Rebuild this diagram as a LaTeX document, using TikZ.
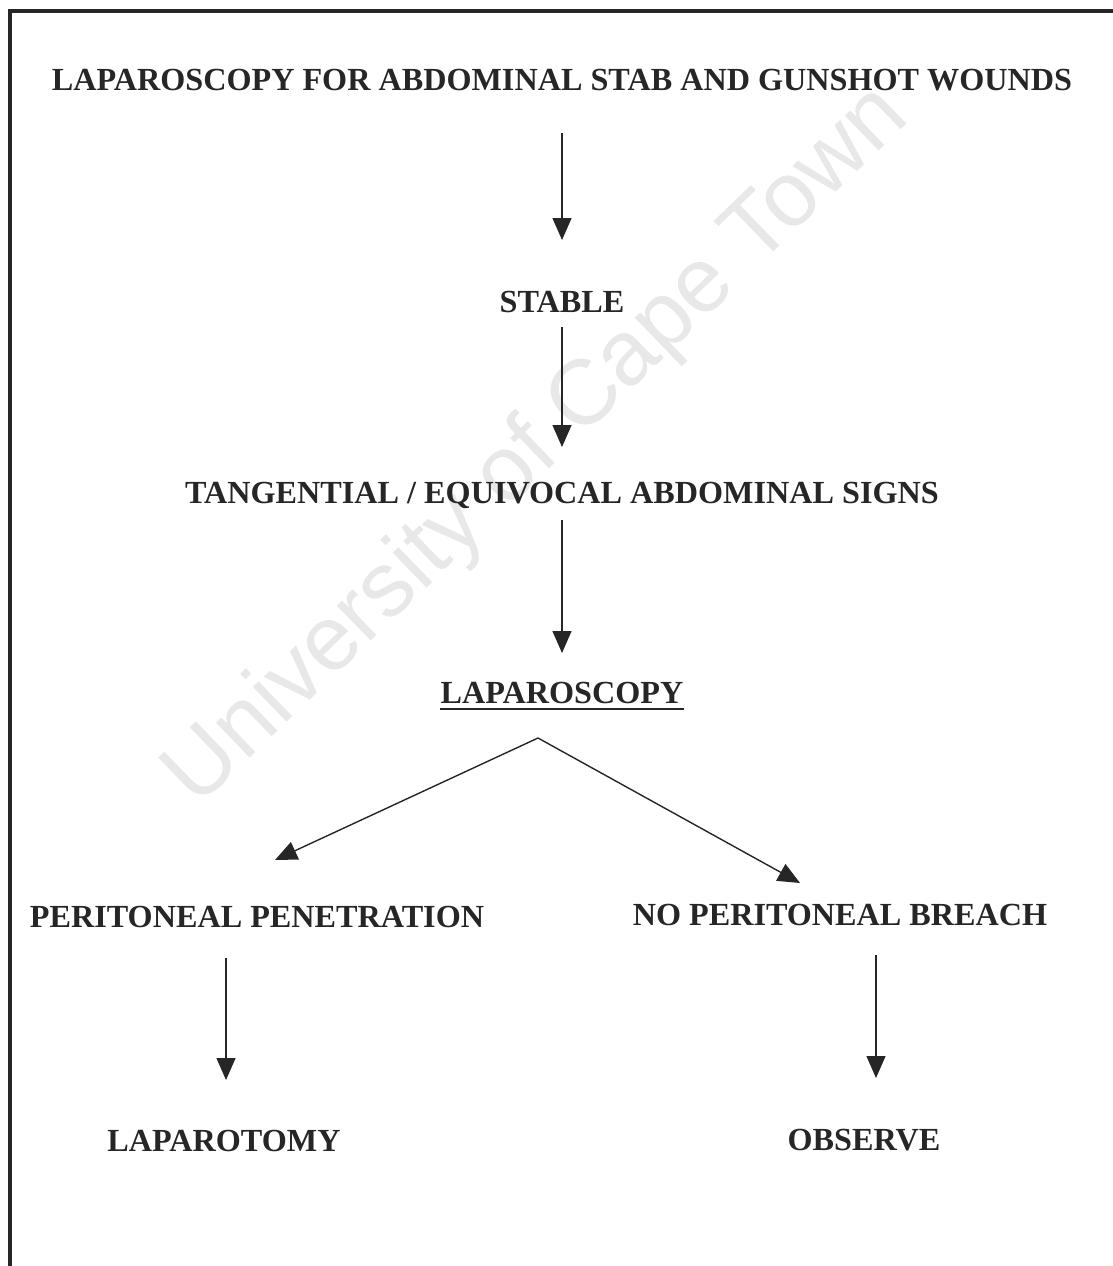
\documentclass[tikz,border=0pt]{standalone}
\usepackage{fontspec}
\setmainfont{Liberation Serif}
\newfontfamily\wmfont{Liberation Sans}
\usetikzlibrary{arrows.meta}
\tikzset{
  lbl/.style={inner sep=0pt, anchor=center, font=\fontsize{32.2}{36}\selectfont\bfseries, text=black!85},
  arr/.style={line width=1.4pt, draw=black!85, -{Triangle[length=22pt,width=19pt]}},
  frame/.style={line width=4pt, draw=black!85},
}
\begin{document}
\begin{tikzpicture}[x=1pt,y=-1pt]
\useasboundingbox (0,0) rectangle (1112,1266);
% watermark
\node[rotate=44, text=black!9, font=\wmfont\fontsize{92}{100}\selectfont, inner sep=0pt] (wm) at (538,447) {University of Cape Town};
% frame
\draw[frame] (10,1270) -- (10,11) -- (1116,11);
% nodes
\node[lbl] (title) at (562,80) {LAPAROSCOPY FOR ABDOMINAL STAB AND GUNSHOT WOUNDS};
\node[lbl] (stable) at (562,302) {STABLE};
\node[lbl] (tang) at (562,495) {TANGENTIAL / EQUIVOCAL ABDOMINAL SIGNS};
\node[lbl] (lap) at (562,693) {LAPAROSCOPY};
\node[lbl] (pen) at (257,917) {PERITONEAL PENETRATION};
\node[lbl] (breach) at (840,915) {NO PERITONEAL BREACH};
\node[lbl] (lapt) at (224,1141) {LAPAROTOMY};
\node[lbl] (obs) at (864,1140) {OBSERVE};
\draw[line width=1.8pt, draw=black!85] ([yshift=-16pt]lap.west |- 0,693) -- ([yshift=-16pt]lap.east |- 0,693);
% coordinates
\coordinate (apex) at (538,738);
\coordinate (ltip) at (275,860);
\coordinate (rtip) at (800,883);
\coordinate (ls) at (226,958);
\coordinate (le) at (226,1080);
\coordinate (rs) at (876,955);
\coordinate (re) at (876,1078);
% connectors
\draw[arr, shorten <=53pt, shorten >=62pt] (title.center) -- (stable.center);
\draw[arr, shorten <=25pt, shorten >=48pt] (stable.center) -- (tang.center);
\draw[arr, shorten <=25pt, shorten >=40pt] (tang.center) -- (lap.center);
\draw[arr] (apex) -- (ltip);
\draw[arr] (apex) -- (rtip);
\draw[arr] (ls) -- (le);
\draw[arr] (rs) -- (re);
\end{tikzpicture}
\end{document}
